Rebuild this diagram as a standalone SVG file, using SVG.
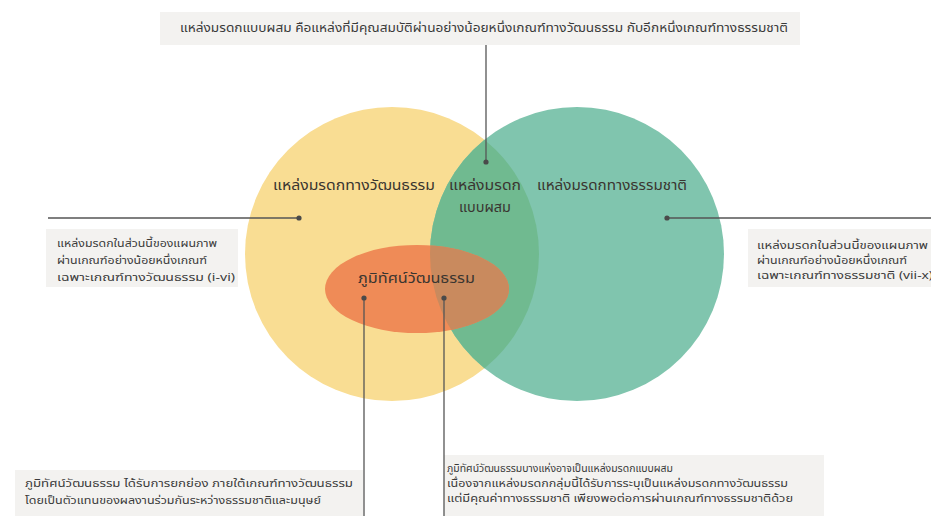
<svg xmlns="http://www.w3.org/2000/svg" width="931" height="516" viewBox="0 0 931 516">
<defs>
<style>
.t{font-family:'Noto Sans Thai','Noto Sans','DejaVu Sans',sans-serif;fill:#3a3a3a;font-size:10.5px}
.tt{font-size:11.5px}
.lb{font-family:'Noto Sans Thai','Noto Sans','DejaVu Sans',sans-serif;fill:#3a3530;font-size:14px}
.box{fill:#f3f2f0}
.ln{stroke:#555;stroke-width:1.3;fill:none}
.dot{fill:#4a4a4a}
</style>
<clipPath id="clipG"><circle cx="577" cy="254" r="147"/></clipPath>
<clipPath id="clipY"><circle cx="392" cy="254" r="147"/></clipPath>
</defs>
<rect width="931" height="516" fill="#ffffff"/>

<g id="node-cultural">
<circle cx="392" cy="254" r="147" fill="#f9dd93"/>
<text class="lb" x="273" y="190" textLength="162" lengthAdjust="spacingAndGlyphs">แหล่งมรดกทางวัฒนธรรม</text>
</g>
<g id="node-natural">
<circle cx="577" cy="254" r="147" fill="#80c5ae"/>
<text class="lb" x="537" y="190" textLength="150" lengthAdjust="spacingAndGlyphs">แหล่งมรดกทางธรรมชาติ</text>
</g>
<g id="node-mixed">
<circle cx="392" cy="254" r="147" fill="#70ba90" clip-path="url(#clipG)"/>
<text class="lb" x="449" y="190" textLength="72" lengthAdjust="spacingAndGlyphs">แหล่งมรดก</text>
<text class="lb" x="459" y="212" textLength="52" lengthAdjust="spacingAndGlyphs">แบบผสม</text>
</g>
<g id="node-landscape">
<ellipse cx="417" cy="289" rx="92" ry="44" fill="#ef8b57"/>
<ellipse cx="417" cy="289" rx="92" ry="44" fill="#c98a5e" clip-path="url(#clipG)"/>
<text class="lb" x="358" y="283" textLength="117" lengthAdjust="spacingAndGlyphs">ภูมิทัศน์วัฒนธรรม</text>
</g>

<g id="note-mixed">
<rect class="box" x="160" y="12" width="640" height="33"/>
<text class="t tt" x="180" y="32" textLength="608" lengthAdjust="spacingAndGlyphs">แหล่งมรดกแบบผสม คือแหล่งที่มีคุณสมบัติผ่านอย่างน้อยหนึ่งเกณฑ์ทางวัฒนธรรม กับอีกหนึ่งเกณฑ์ทางธรรมชาติ</text>
</g>
<g id="note-cultural">
<rect class="box" x="46" y="229" width="192" height="58"/>
<text class="t" x="57" y="247" textLength="160" lengthAdjust="spacingAndGlyphs">แหล่งมรดกในส่วนนี้ของแผนภาพ</text>
<text class="t" x="57" y="264" textLength="150" lengthAdjust="spacingAndGlyphs">ผ่านเกณฑ์อย่างน้อยหนึ่งเกณฑ์</text>
<text class="t" x="57" y="281" textLength="178" lengthAdjust="spacingAndGlyphs">เฉพาะเกณฑ์ทางวัฒนธรรม (i-vi)</text>
</g>
<g id="note-natural">
<rect class="box" x="748" y="229" width="183" height="58"/>
<text class="t" x="757" y="249" textLength="171" lengthAdjust="spacingAndGlyphs">แหล่งมรดกในส่วนนี้ของแผนภาพ</text>
<text class="t" x="757" y="264" textLength="150" lengthAdjust="spacingAndGlyphs">ผ่านเกณฑ์อย่างน้อยหนึ่งเกณฑ์</text>
<text class="t" x="757" y="279" textLength="176" lengthAdjust="spacingAndGlyphs">เฉพาะเกณฑ์ทางธรรมชาติ (vii-x)</text>
</g>
<g id="note-landscape">
<rect class="box" x="15" y="470" width="348" height="46"/>
<text class="t" x="25" y="487" textLength="328" lengthAdjust="spacingAndGlyphs">ภูมิทัศน์วัฒนธรรม ได้รับการยกย่อง ภายใต้เกณฑ์ทางวัฒนธรรม</text>
<text class="t" x="25" y="504" textLength="296" lengthAdjust="spacingAndGlyphs">โดยเป็นตัวแทนของผลงานร่วมกันระหว่างธรรมชาติและมนุษย์</text>
</g>
<g id="note-landscape-mixed">
<rect class="box" x="444" y="455" width="380" height="61"/>
<text class="t" x="447" y="472" textLength="226" lengthAdjust="spacingAndGlyphs">ภูมิทัศน์วัฒนธรรมบางแห่งอาจเป็นแหล่งมรดกแบบผสม</text>
<text class="t" x="447" y="487" textLength="341" lengthAdjust="spacingAndGlyphs">เนื่องจากแหล่งมรดกกลุ่มนี้ได้รับการระบุเป็นแหล่งมรดกทางวัฒนธรรม</text>
<text class="t" x="447" y="502" textLength="346" lengthAdjust="spacingAndGlyphs">แต่มีคุณค่าทางธรรมชาติ เพียงพอต่อการผ่านเกณฑ์ทางธรรมชาติด้วย</text>
</g>

<g id="connectors">
<line class="ln" x1="486" y1="45" x2="486" y2="162"/>
<circle class="dot" cx="486" cy="162" r="2.6"/>
<line class="ln" x1="48" y1="218" x2="299" y2="218"/>
<circle class="dot" cx="299" cy="218" r="2.6"/>
<line class="ln" x1="667" y1="218" x2="931" y2="218"/>
<circle class="dot" cx="667" cy="218" r="2.6"/>
<line class="ln" x1="364" y1="298" x2="364" y2="516"/>
<circle class="dot" cx="364" cy="298" r="2.6"/>
<line class="ln" x1="444" y1="298" x2="444" y2="516"/>
<circle class="dot" cx="444" cy="298" r="2.6"/>
</g>
</svg>
